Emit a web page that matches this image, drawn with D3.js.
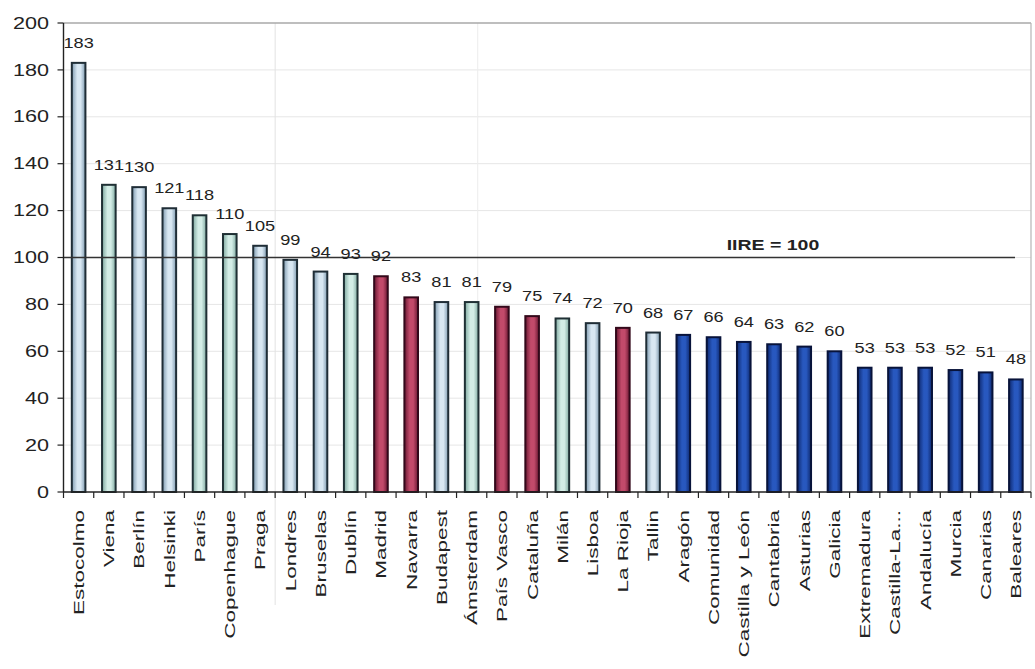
<!DOCTYPE html>
<html>
<head>
<meta charset="utf-8">
<script src="https://cdn.jsdelivr.net/npm/d3@7"></script>
<style>
  html, body { margin: 0; padding: 0; background: #fff; }
  svg { display: block; font-family: "Liberation Sans", Arial, sans-serif; }
</style>
</head>
<body>
<svg id="chart" width="1035" height="669"></svg>
<script>
// Índice por ciudad / comunidad (IIRE = 100)
const categories = [
  "Estocolmo", "Viena", "Berlín", "Helsinki", "París", "Copenhague", "Praga",
  "Londres", "Bruselas", "Dublín", "Madrid", "Navarra", "Budapest", "Ámsterdam",
  "País Vasco", "Cataluña", "Milán", "Lisboa", "La Rioja", "Tallin", "Aragón",
  "Comunidad", "Castilla y León", "Cantabria", "Asturias", "Galicia",
  "Extremadura", "Castilla-La...", "Andalucía", "Murcia", "Canarias", "Baleares"
];
const values = [
  183, 131, 130, 121, 118, 110, 105,
  99, 94, 93, 92, 83, 81, 81,
  79, 75, 74, 72, 70, 68, 67,
  66, 64, 63, 62, 60,
  53, 53, 53, 52, 51, 48
];
// tipo de barra: "cb" ciudad (azul claro), "cv" ciudad (verde claro),
// "rs" comunidad destacada, "rb" resto de comunidades
const kinds = [
  "cb", "cv", "cb", "cb", "cv", "cv", "cb",
  "cb", "cb", "cv", "rs", "rs", "cb", "cv",
  "rs", "rs", "cv", "cb", "rs", "cb", "rb",
  "rb", "rb", "rb", "rb", "rb",
  "rb", "rb", "rb", "rb", "rb", "rb"
];
const yTicks = [0, 20, 40, 60, 80, 100, 120, 140, 160, 180, 200];
const referenceValue = 100;
const referenceLabel = "IIRE = 100";

const palette = {
  cb: { edge: "#7f9bb0", mid: "#d8e7f2", stroke: "#1f2d36" },
  cv: { edge: "#7fa9a0", mid: "#d3ede6", stroke: "#1f3034" },
  rs: { edge: "#6a1832", mid: "#c24a6a", stroke: "#33081a" },
  rb: { edge: "#0e2970", mid: "#2858bf", stroke: "#08133a" }
};

const svg = d3.select("#chart");
const plotLeft = 63.5, plotRight = 1031, plotTop = 23, plotBottom = 492;

const x = d3.scaleBand(categories, [plotLeft, plotRight]).paddingInner(0.55).paddingOuter(0.275);
const y = d3.scaleLinear([0, 200], [plotBottom, plotTop]);

// gradients for the bar bodies
const defs = svg.append("defs");
Object.entries(palette).forEach(([k, c]) => {
  const g = defs.append("linearGradient").attr("id", "grad-" + k)
    .attr("x1", "0%").attr("x2", "100%").attr("y1", "0%").attr("y2", "0%");
  g.append("stop").attr("offset", "0%").attr("stop-color", c.edge);
  g.append("stop").attr("offset", "40%").attr("stop-color", c.mid);
  g.append("stop").attr("offset", "65%").attr("stop-color", c.mid);
  g.append("stop").attr("offset", "100%").attr("stop-color", c.edge);
});

// horizontal gridlines
svg.append("g").selectAll("line").data(yTicks.filter(t => t > 0 && t < 200)).join("line")
  .attr("x1", plotLeft).attr("x2", plotRight)
  .attr("y1", d => y(d)).attr("y2", d => y(d))
  .attr("stroke", "#e6e6e6").attr("stroke-width", 1);

// faint vertical separators
const step = x.step();
const boundary = i => x(categories[0]) + x.bandwidth() / 2 - step / 2 + step * i;
svg.append("line").attr("x1", boundary(7)).attr("x2", boundary(7))
  .attr("y1", plotTop).attr("y2", 605).attr("stroke", "#e2e2e2");
svg.append("line").attr("x1", boundary(13.7)).attr("x2", boundary(13.7))
  .attr("y1", plotTop).attr("y2", plotBottom).attr("stroke", "#ececec");

// plot frame (top and right)
svg.append("line").attr("x1", plotLeft).attr("x2", plotRight).attr("y1", y(200)).attr("y2", y(200))
  .attr("stroke", "#a8a8a8").attr("stroke-width", 1.5);
svg.append("line").attr("x1", plotRight).attr("x2", plotRight).attr("y1", plotTop).attr("y2", plotBottom)
  .attr("stroke", "#b5b5b5").attr("stroke-width", 1.2);

// bars
const data = categories.map((c, i) => ({ c, v: values[i], k: kinds[i] }));
svg.append("g").selectAll("rect").data(data).join("rect")
  .attr("x", d => x(d.c))
  .attr("y", d => y(d.v))
  .attr("width", x.bandwidth())
  .attr("height", d => y(0) - y(d.v))
  .attr("fill", d => `url(#grad-${d.k})`)
  .attr("stroke", d => palette[d.k].stroke)
  .attr("stroke-width", 2);

// reference line
svg.append("line")
  .attr("x1", plotLeft).attr("x2", 1015)
  .attr("y1", y(referenceValue)).attr("y2", y(referenceValue))
  .attr("stroke", "#333").attr("stroke-width", 1.4);
svg.append("text")
  .attr("transform", `translate(773, ${y(referenceValue) - 8}) scale(1.3,1)`)
  .attr("text-anchor", "middle")
  .attr("font-size", 15).attr("font-weight", "bold").attr("fill", "#222")
  .text(referenceLabel);

// value labels
svg.append("g").selectAll("text").data(data).join("text")
  .attr("transform", d => `translate(${x(d.c) + x.bandwidth() / 2}, ${y(d.v) - 15}) scale(1.3,1)`)
  .attr("text-anchor", "middle")
  .attr("font-size", 14).attr("fill", "#222")
  .text(d => d.v);

// y axis
const yAxis = svg.append("g");
yAxis.append("line").attr("x1", plotLeft).attr("x2", plotLeft).attr("y1", plotTop).attr("y2", plotBottom)
  .attr("stroke", "#222").attr("stroke-width", 1.4);
yAxis.selectAll("line.tick").data(yTicks).join("line").attr("class", "tick")
  .attr("x1", plotLeft - 6).attr("x2", plotLeft)
  .attr("y1", d => y(d)).attr("y2", d => y(d))
  .attr("stroke", "#222").attr("stroke-width", 1.2);
yAxis.selectAll("text").data(yTicks).join("text")
  .attr("transform", d => `translate(49, ${y(d)}) scale(1.35,1)`)
  .attr("text-anchor", "end").attr("dy", "0.35em")
  .attr("font-size", 16).attr("fill", "#222")
  .text(d => d);

// x axis
const xAxis = svg.append("g");
xAxis.append("line").attr("x1", plotLeft).attr("x2", plotRight).attr("y1", plotBottom).attr("y2", plotBottom)
  .attr("stroke", "#222").attr("stroke-width", 1.4);
xAxis.selectAll("line.tick").data(d3.range(categories.length + 1)).join("line").attr("class", "tick")
  .attr("x1", i => boundary(i)).attr("x2", i => boundary(i))
  .attr("y1", plotBottom).attr("y2", plotBottom + 6)
  .attr("stroke", "#222").attr("stroke-width", 1.2);
xAxis.selectAll("text").data(categories).join("text")
  .attr("transform", c => `translate(${x(c) + x.bandwidth() / 2}, 510) rotate(-90) scale(1.5,1)`)
  .attr("text-anchor", "end").attr("dy", "0.36em")
  .attr("font-size", 15).attr("fill", "#222")
  .text(c => c);
</script>
</body>
</html>
